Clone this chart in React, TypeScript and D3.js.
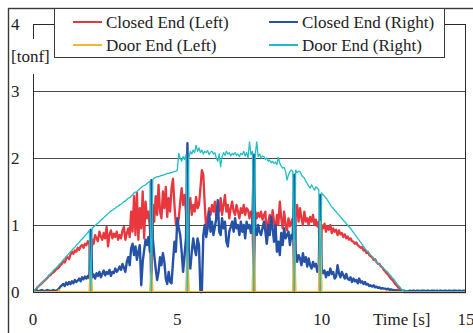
import React from 'react';
import * as d3 from 'd3';

// sampled every 0.05 s from 0 to 15 s
const dt = 0.05;

const closedLeft = [
  0, 0.02, 0.04, 0.07, 0.09, 0.11, 0.13, 0.15, 0.17, 0.19, 0.21, 0.24, 0.25, 0.28, 0.29, 0.31, 0.34, 0.35, 0.37, 0.4,
  0.42, 0.46, 0.44, 0.5, 0.52, 0.49, 0.56, 0.6, 0.57, 0.62, 0.6, 0.66, 0.63, 0.68, 0.7, 0.66, 0.72, 0.7, 0.76, 0.73,
  0, 0.78, 0.72, 0.85, 0.8, 0.76, 0.9, 0.83, 0.78, 0.88, 0.8, 0.97, 0.68, 0.86, 0.92, 0.8, 0.87, 0.82, 0.9, 0.78,
  0.85, 0.8, 0.92, 0.97, 0.78, 0.88, 0.95, 0.82, 1.2, 0.9, 1.43, 0.85, 1.48, 0.78, 1.25, 0.95, 1.5, 0.8, 1.35, 1.1,
  1.2, 0.95, 0, 1.3, 1.05, 1.43, 1.15, 1.6, 1.2, 1.1, 1.5, 1.25, 1.57, 1.12, 1.4, 1.2, 1.55, 1.69, 1.3, 1.0,
  0.97, 1.1, 1.35, 1.55, 1.3, 1.45, 1.2, 0, 1.25, 1.4, 1.15, 1.3, 1.2, 1.42, 1.25, 1.3, 1.55, 1.82, 1.75, 1.3,
  0.93, 1.1, 1.25, 1.15, 1.3, 1.2, 1.35, 1.1, 1.25, 1.2, 1.4, 1.15, 1.3, 1.45, 1.2, 1.3, 1.1, 1.25, 1.35, 1.2,
  1.15, 1.3, 1.2, 1.1, 1.25, 1.18, 1.3, 1.15, 1.25, 1.22, 1.1, 1.2, 1.15, 0, 1.2, 1.1, 1.18, 1.12, 1.2, 1.08,
  1.15, 1.2, 0.73, 1.05, 1.15, 0.95, 1.22, 1.05, 0.9, 1.15, 1.0, 1.35, 1.1, 0.95, 1.2, 1.0, 0.92, 1.1, 0.98, 1.05,
  1.1, 0, 1.15, 1.3, 1.05, 1.25, 1.1, 1.0, 1.2, 1.05, 1.1, 1.0, 1.12, 1.05, 1.15, 1.0, 1.08, 0.98, 1.05, 0,
  1.0, 0.95, 1.02, 0.9, 0.98, 0.93, 1.0, 0.88, 0.95, 0.9, 0.93, 0.85, 0.92, 0.86, 0.88, 0.82, 0.86, 0.8, 0.83, 0.78,
  0.8, 0.76, 0.75, 0.72, 0.74, 0.7, 0.68, 0.66, 0.67, 0.62, 0.63, 0.58, 0.6, 0.55, 0.53, 0.52, 0.48, 0.49, 0.45, 0.42,
  0.42, 0.38, 0.37, 0.33, 0.31, 0.28, 0.26, 0.23, 0.2, 0.18, 0.15, 0.12, 0.1, 0.07, 0.05, 0.03, 0.01, 0, 0, 0,
  0, 0, 0, 0, 0, 0, 0, 0, 0, 0, 0, 0, 0, 0, 0, 0, 0, 0, 0, 0,
  0, 0, 0, 0, 0, 0, 0, 0, 0, 0, 0, 0, 0, 0, 0, 0, 0, 0, 0, 0,
  0,
];

const closedRight = [
  0.02, 0.01, 0.03, 0.02, 0.01, 0.02, 0.03, 0.02, 0.01, 0.02, 0.03, 0.02, 0.02, 0.01, 0.03, 0.02, 0.02, 0.03, 0.05, 0.08,
  0.1, 0.12, 0.09, 0.14, 0.11, 0.15, 0.12, 0.16, 0.13, 0.18, 0.15, 0.17, 0.2, 0.16, 0.22, 0.19, 0.23, 0.2, 0.24, 0.21,
  0.93, 0.22, 0.26, 0.2, 0.28, 0.24, 0.3, 0.22, 0.27, 0.32, 0.25, 0.3, 0.27, 0.33, 0.24, 0.3, 0.28, 0.35, 0.3, 0.33,
  0.38, 0.33, 0.42, 0.36, 0.3, 0.45, 0.52, 0.4, 0.65, 0.72, 0.55, 0.68, 0.48, 0.6, 0.7, 0.1, 0.45, 0.62, 0.78, 0.7,
  0.82, 0.6, 1.67, 0.8, 0.55, 0.35, 0.18, 0.3, 0.52, 0.4, 0.58, 0.45, 0.2, 0.12, 0.3, 0.15, 0.13, 0.45, 0.75, 0.6,
  1.1, 0.95, 0.85, 0.6, 0.3, 0.55, 0.8, 2.22, 0.5, 0.35, 0.6, 0.8, 0.65, 0.55, 0.8, 0.7, 0, 0, 0.85, 1.0,
  0.82, 0.95, 1.2, 0.9, 1.05, 0.85, 0.97, 1.1, 1.37, 0.9, 0.85, 1.1, 0.95, 1.05, 0.75, 0.68, 0.9, 0.97, 1.05, 0.9,
  1.1, 0.95, 1.0, 0.85, 1.05, 0.9, 1.0, 0.8, 1.05, 0.95, 1.0, 0.88, 1.02, 2.05, 0.92, 0.85, 1.0, 0.9, 0.85, 0.95,
  1.05, 0.9, 0.72, 1.0, 0.85, 1.12, 0.95, 0.75, 1.0, 0.6, 0.75, 0.55, 0.88, 0.7, 0.95, 0.8, 0.85, 0.9, 0.7, 0.85,
  0.8, 1.75, 0.6, 0.45, 0.55, 0.5, 0.4, 0.58, 0.45, 0.52, 0.38, 0.5, 0.4, 0.35, 0.45, 0.38, 0.42, 0.3, 0.4, 1.45,
  0.35, 0.28, 0.32, 0.22, 0.3, 0.25, 0.35, 0.27, 0.3, 0.2, 0.23, 0.4, 0.28, 0.22, 0.3, 0.25, 0.2, 0.27, 0.2, 0.18,
  0.22, 0.15, 0.2, 0.16, 0.18, 0.13, 0.2, 0.14, 0.16, 0.12, 0.15, 0.11, 0.12, 0.09, 0.1, 0.08, 0.1, 0.07, 0.08, 0.06,
  0.07, 0.05, 0.06, 0.05, 0.05, 0.04, 0.05, 0.03, 0.04, 0.03, 0.03, 0.02, 0.03, 0.02, 0.02, 0.02, 0.01, 0.02, 0.01, 0.01,
  0.01, 0.02, 0.01, 0.02, 0.02, 0.01, 0.02, 0.02, 0.01, 0.02, 0.02, 0.02, 0.01, 0.02, 0.02, 0.01, 0.02, 0.02, 0.02, 0.01,
  0.02, 0.01, 0.02, 0.02, 0.01, 0.02, 0.02, 0.01, 0.02, 0.02, 0.01, 0.02, 0.02, 0.02, 0.01, 0.02, 0.02, 0.01, 0.02, 0.02,
  0.02,
];

const doorLeft = [
  0, 0, 0, 0, 0, 0, 0, 0, 0, 0, 0, 0, 0, 0, 0, 0, 0, 0, 0.03, 0,
  0, 0, 0, 0, 0, 0, 0, 0, 0, 0, 0, 0, 0, 0, 0, 0, 0, 0, 0, 0,
  0.35, 0, 0, 0, 0, 0, 0, 0, 0, 0, 0, 0, 0, 0, 0, 0, 0, 0, 0, 0,
  0, 0, 0, 0, 0, 0, 0, 0, 0, 0, 0, 0, 0, 0, 0, 0, 0, 0, 0, 0,
  0, 0, 0.3, 0, 0, 0, 0, 0, 0, 0, 0, 0, 0, 0, 0, 0, 0, 0, 0, 0,
  0, 0, 0, 0, 0, 0, 0, 0.6, 0, 0, 0, 0, 0, 0, 0, 0, 0, 0, 0, 0,
  0, 0, 0, 0, 0, 0, 0, 0, 0, 0, 0, 0, 0, 0, 0, 0, 0, 0, 0, 0,
  0, 0, 0, 0, 0, 0, 0, 0, 0, 0, 0, 0, 0, 0.72, 0, 0, 0, 0, 0, 0,
  0, 0, 0, 0, 0, 0, 0, 0, 0, 0, 0, 0, 0, 0, 0, 0, 0, 0, 0, 0,
  0, 0.78, 0, 0, 0, 0, 0, 0, 0, 0, 0, 0, 0, 0, 0, 0, 0, 0, 0, 1.05,
  0, 0, 0, 0, 0, 0, 0, 0, 0, 0, 0, 0, 0, 0, 0, 0, 0, 0, 0, 0,
  0, 0, 0, 0, 0, 0, 0, 0, 0, 0, 0, 0, 0, 0, 0, 0, 0, 0, 0, 0,
  0, 0, 0, 0, 0, 0, 0, 0, 0, 0, 0, 0, 0, 0, 0, 0, 0, 0, 0, 0,
  0, 0, 0, 0, 0, 0, 0, 0, 0, 0, 0, 0, 0, 0, 0, 0, 0, 0, 0, 0,
  0, 0, 0, 0, 0, 0, 0, 0, 0, 0, 0, 0, 0, 0, 0, 0, 0, 0, 0, 0,
  0,
];

const doorRight = [
  0, 0.02, 0.05, 0.07, 0.09, 0.11, 0.13, 0.15, 0.18, 0.2, 0.22, 0.25, 0.27, 0.29, 0.32, 0.34, 0.36, 0.38, 0.41, 0.43,
  0.45, 0.48, 0.5, 0.53, 0.55, 0.58, 0.6, 0.62, 0.65, 0.67, 0.7, 0.72, 0.74, 0.77, 0.79, 0.81, 0.84, 0.86, 0.89, 0.92,
  0, 0.95, 0.97, 0.99, 1.01, 1.03, 1.05, 1.07, 1.09, 1.11, 1.13, 1.15, 1.17, 1.19, 1.21, 1.22, 1.24, 1.25, 1.27, 1.28,
  1.3, 1.31, 1.33, 1.35, 1.36, 1.38, 1.4, 1.41, 1.43, 1.45, 1.48, 1.49, 1.5, 1.52, 1.54, 1.56, 1.58, 1.59, 1.6, 1.62,
  1.64, 1.65, 0, 1.68, 1.7, 1.71, 1.72, 1.72, 1.73, 1.74, 1.74, 1.75, 1.76, 1.77, 1.77, 1.78, 1.78, 1.79, 1.8, 1.8,
  1.82, 2.07, 2.0, 1.95, 2.02, 1.98, 2.05, 0, 2.0, 2.1, 2.06, 2.12, 2.08, 2.19, 2.1, 2.15, 2.08, 2.12, 2.06, 2.1,
  2.08, 2.11, 2.05, 2.09, 2.1, 2.06, 2.08, 2.0, 1.95, 2.06, 1.87, 2.02, 2.08, 2.04, 2.1, 2.06, 2.08, 2.03, 2.07, 2.05,
  2.08, 2.04, 2.06, 2.02, 2.07, 2.05, 2.1, 2.03, 2.08, 2.0, 2.24, 2.05, 2.1, 0, 2.05, 2.24, 2.02, 2.06, 2.0, 2.03,
  2.02, 1.98, 2.0, 1.95, 1.97, 1.93, 1.95, 1.92, 1.94, 1.9, 2.01, 1.92, 1.88, 1.85, 1.86, 1.8, 1.67, 1.75, 1.8, 1.82,
  1.8, 0, 1.82, 1.78, 1.8, 1.8, 1.75, 1.72, 1.7, 1.65, 1.62, 1.58, 1.55, 1.6, 1.56, 1.52, 1.57, 1.55, 1.53, 0,
  1.48, 1.45, 1.43, 1.4, 1.37, 1.34, 1.3, 1.27, 1.25, 1.22, 1.2, 1.17, 1.15, 1.12, 1.1, 1.07, 1.05, 1.02, 1.0, 0.97,
  0.95, 0.92, 0.89, 0.86, 0.83, 0.8, 0.77, 0.74, 0.71, 0.68, 0.65, 0.62, 0.6, 0.58, 0.55, 0.53, 0.5, 0.48, 0.45, 0.43,
  0.41, 0.39, 0.37, 0.35, 0.33, 0.31, 0.29, 0.26, 0.24, 0.21, 0.19, 0.16, 0.13, 0.1, 0.08, 0.05, 0.03, 0.01, 0, 0,
  0, 0, 0, 0, 0, 0, 0, 0, 0, 0, 0, 0, 0, 0, 0, 0, 0, 0, 0, 0,
  0, 0, 0, 0, 0, 0, 0, 0, 0, 0, 0, 0, 0, 0, 0, 0, 0, 0, 0, 0,
  0,
];

const yTicks = [0, 1, 2, 3, 4];
const xTicks = [0, 5, 10, 15];

const series = [
  { name: 'Closed End (Left)', values: closedLeft, color: '#e8373d', width: 2.3 },
  { name: 'Closed End (Right)', values: closedRight, color: '#2551a6', width: 2.4 },
  { name: 'Door End (Left)', values: doorLeft, color: '#f6b437', width: 2 },
  { name: 'Door End (Right)', values: doorRight, color: '#20bec6', width: 1.3 },
];

const W = 473;
const H = 333;
const txt: React.CSSProperties = { fontFamily: "'Liberation Serif', 'Times New Roman', serif", fontSize: '17px' };

export default function App() {
  const x = d3.scaleLinear().domain([0, 15]).range([33, 466]);
  const y = d3.scaleLinear().domain([0, 4]).range([292, 24]);

  const line = d3
    .line<number>()
    .x((_, i) => x(i * dt))
    .y(d => y(d));

  // legend slots: left column, right column
  const legendPos = [
    { lx: 73, ly: 22 },
    { lx: 269, ly: 22 },
    { lx: 73, ly: 45 },
    { lx: 269, ly: 45 },
  ];

  return (
    <svg width={W} height={H} style={{ position: 'absolute', left: 0, top: 0, background: '#fff' }}>
      <defs>
        <clipPath id="plot">
          <rect x={33} y={24} width={433} height={270} />
        </clipPath>
      </defs>
      <rect width={W} height={H} fill="#fff" />
      {/* outer frame */}
      <rect x={8.5} y={8.5} width={490} height={350} fill="none" stroke="#3a3a3a" strokeWidth={1.4} />

      {/* gridlines */}
      {yTicks.slice(1, 4).map(t => (
        <line key={t} x1={33} x2={466} y1={Math.round(y(t)) + 0.5} y2={Math.round(y(t)) + 0.5} stroke="#4a4a4a" strokeWidth={1} />
      ))}

      <g clipPath="url(#plot)">
        {series.map(s => (
          <path
            key={s.name}
            d={line(s.values) ?? ''}
            fill="none"
            stroke={s.color}
            strokeWidth={s.width}
            strokeLinejoin="round"
          />
        ))}
      </g>

      {/* plot frame */}
      <rect x={33.5} y={24.5} width={432} height={268} fill="none" stroke="#2a2a2a" strokeWidth={1} />

      {/* y ticks */}
      {yTicks.map(t => (
        <text key={t} x={11} y={y(t)} dy="0.35em" style={txt} fill="#222">
          {t}
        </text>
      ))}
      <rect x={10} y={39} width={38} height={35} fill="#fff" />
      <text x={11} y={62} style={txt} fill="#222">
        [tonf]
      </text>

      {/* x ticks */}
      {xTicks.map(t => (
        <text key={t} x={x(t)} y={325} textAnchor="middle" style={txt} fill="#222">
          {t}
        </text>
      ))}
      <text x={373} y={325} style={txt} fill="#222">
        Time [s]
      </text>

      {/* legend */}
      <rect x={54.5} y={8.5} width={390} height={49} fill="#fff" stroke="#3a3a3a" strokeWidth={1} />
      {series.map((s, i) => (
        <g key={s.name}>
          <line
            x1={legendPos[i].lx}
            x2={legendPos[i].lx + 29}
            y1={legendPos[i].ly}
            y2={legendPos[i].ly}
            stroke={s.color}
            strokeWidth={2}
          />
          <text x={legendPos[i].lx + 33} y={legendPos[i].ly} dy="0.33em" style={txt} fill="#222">
            {s.name}
          </text>
        </g>
      ))}
    </svg>
  );
}
